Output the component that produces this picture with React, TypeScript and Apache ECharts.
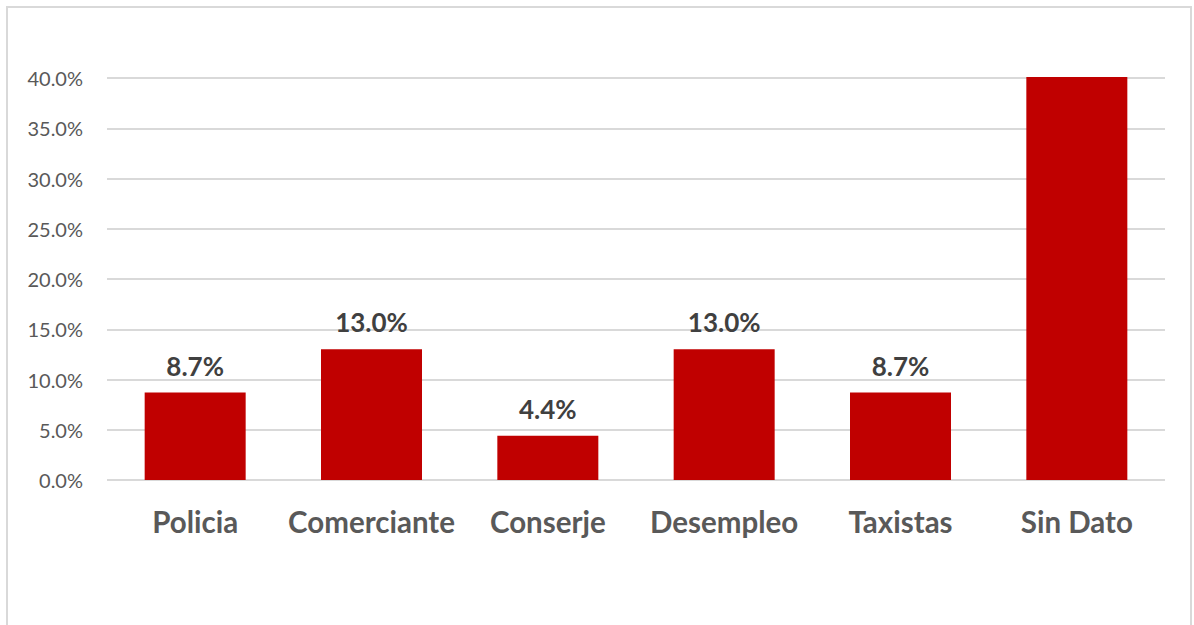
import React, { useEffect, useRef } from "react";
import * as echarts from "echarts";

const categories = ["Policia", "Comerciante", "Conserje", "Desempleo", "Taxistas", "Sin Dato"];
const values = [8.7, 13.0, 4.4, 13.0, 8.7, 40.1];
const showLabel = [true, true, true, true, true, false];
const yTicks = [0, 5, 10, 15, 20, 25, 30, 35, 40];

export default function App() {
  const ref = useRef<HTMLDivElement>(null);
  useEffect(() => {
    if (!ref.current) return;
    const chart = echarts.init(ref.current, null, { renderer: "svg" });
    chart.setOption({
      animation: false,
      backgroundColor: "#ffffff",
      graphic: [
        {
          type: "rect",
          shape: { x: 7, y: 7, width: 1184, height: 660 },
          style: { fill: "none", stroke: "#d9d9d9", lineWidth: 2 },
          silent: true,
        },
      ],
      grid: { left: 107, right: 29, top: 78, bottom: 145, containLabel: false },
      xAxis: {
        type: "category",
        data: categories,
        axisLine: { show: false },
        axisTick: { show: false },
        axisLabel: {
          interval: 0,
          hideOverlap: false,
          color: "#595959",
          fontFamily: "Lato",
          fontWeight: "bold",
          fontSize: 29.5,
          margin: 26,
        },
      },
      yAxis: {
        type: "value",
        min: yTicks[0],
        max: yTicks[yTicks.length - 1],
        interval: 5,
        axisLine: { show: false },
        axisTick: { show: false },
        splitLine: { lineStyle: { color: "#d9d9d9", width: 2 } },
        axisLabel: {
          color: "#595959",
          fontFamily: "Lato",
          fontSize: 20,
          margin: 24,
          formatter: (v: number) => v.toFixed(1) + "%",
        },
      },
      series: [
        {
          type: "bar",
          clip: false,
          barWidth: 101,
          data: values.map((v, i) => ({
            value: v,
            label: { show: showLabel[i] },
          })),
          itemStyle: { color: "#c00000" },
          label: {
            position: "top",
            distance: 14,
            color: "#404040",
            fontFamily: "Lato",
            fontWeight: "bold",
            fontSize: 26,
            formatter: (p: any) => Number(p.value).toFixed(1) + "%",
          },
        },
      ],
    });
    return () => chart.dispose();
  }, []);
  return (
    <div
      ref={ref}
      style={{ position: "fixed", left: 0, top: 0, width: 1194, height: 625 }}
    />
  );
}
